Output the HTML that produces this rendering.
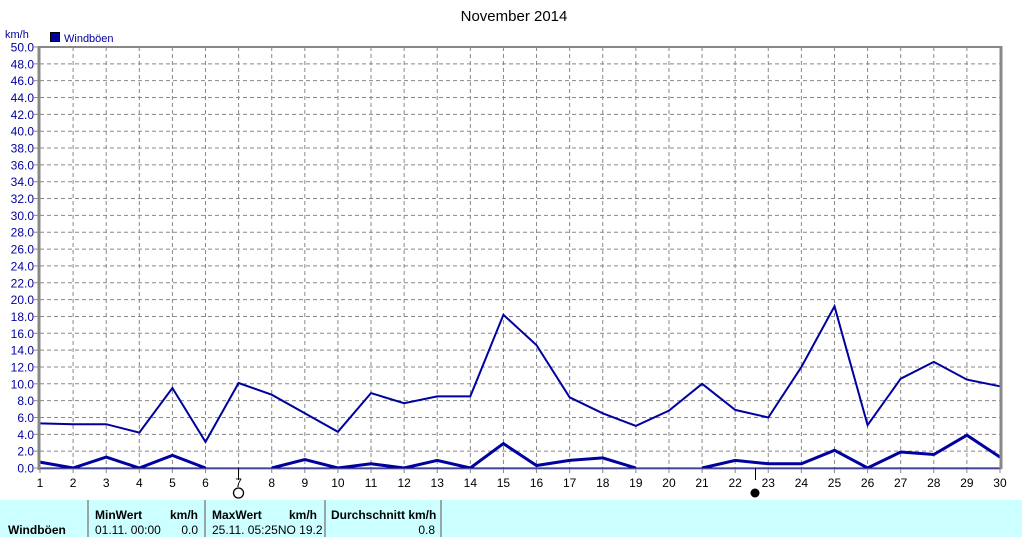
<!DOCTYPE html><html><head><meta charset="utf-8"><style>
body{margin:0;background:#fff;width:1024px;height:537px;overflow:hidden;font-family:"Liberation Sans",sans-serif}
</style></head><body>
<svg width="1024" height="537" xmlns="http://www.w3.org/2000/svg" style="position:absolute;left:0;top:0" font-family="Liberation Sans, sans-serif">
<text x="514" y="21" font-size="15" text-anchor="middle" fill="#000">November 2014</text>
<text x="5" y="38" font-size="11" fill="#0000a0">km/h</text>
<rect x="50.5" y="32.5" width="9" height="9" fill="#0000a0" stroke="#000"/>
<text x="64" y="42" font-size="11" fill="#0000a0">Windböen</text>
<g id="grid" stroke="#888" stroke-dasharray="4,3" stroke-width="1"></g>
<g id="ylab" font-size="12" fill="#0000a0" text-anchor="end"></g>
<g id="xlab" font-size="12" fill="#000" text-anchor="middle"></g>
<line x1="40" y1="468" x2="1000" y2="468" stroke="#0000a0" stroke-width="1"/>
<polyline fill="none" stroke="#0000a0" stroke-width="2" points="40,423.4 73.1,424.2 106.2,424.2 139.3,432.6 172.4,388 205.5,441.9 238.6,383 271.7,394.7 304.8,413.3 337.9,431.8 371,393.1 404.1,403.2 437.2,396.4 470.3,396.4 503.4,314.8 536.5,345.1 569.6,397.3 602.7,413.3 635.8,425.9 668.9,410.7 702.1,383.8 735.2,409.9 768.3,417.5 801.4,367 834.5,306.3 867.6,425.1 900.7,378.7 933.8,361.9 966.9,379.6 1000,386.3"/>
<g fill="none" stroke="#0000a0" stroke-width="3">
<polyline points="40,462.1 73.1,468 106.2,457.1 139.3,468 172.4,455.4 205.5,468"/>
<polyline points="271.7,468 304.8,459.6 337.9,468 371,463.8 404.1,468 437.2,460.4 470.3,468 503.4,443.6 536.5,465.5 569.6,460.4 602.7,457.9 635.8,468"/>
<polyline points="702.1,468 735.2,460.4 768.3,463.8 801.4,463.8 834.5,450.3 867.6,468 900.7,452 933.8,454.5 966.9,435.2 1000,457.1"/>
</g>
<line x1="40" y1="47" x2="1001" y2="47" stroke="#888" stroke-width="2"/>
<line x1="1001" y1="46" x2="1001" y2="469" stroke="#888" stroke-width="3"/>
<line x1="39" y1="46" x2="39" y2="470" stroke="#888" stroke-width="3"/>
<line x1="38" y1="469" x2="1001" y2="469" stroke="#888" stroke-width="1"/>
<line x1="238.5" y1="468" x2="238.5" y2="480" stroke="#000"/>
<line x1="755.5" y1="468" x2="755.5" y2="480" stroke="#000"/>
<circle cx="238.5" cy="493" r="5" fill="#fff" stroke="#000" stroke-width="1.3"/>
<circle cx="755" cy="493" r="4.5" fill="#000"/>
<rect x="0" y="500" width="1022" height="37" fill="#ccffff"/>
<g stroke="#888" stroke-width="1.5"><line x1="88" y1="500" x2="88" y2="537"/><line x1="205" y1="500" x2="205" y2="537"/><line x1="325" y1="500" x2="325" y2="537"/><line x1="441" y1="500" x2="441" y2="537"/></g>
<g font-size="12" fill="#000">
<text x="8" y="534" font-weight="bold">Windböen</text>
<text x="95" y="519" font-weight="bold">MinWert</text><text x="198" y="519" font-weight="bold" text-anchor="end">km/h</text>
<text x="95" y="534">01.11.  00:00</text><text x="198" y="534" text-anchor="end">0.0</text>
<text x="212" y="519" font-weight="bold">MaxWert</text><text x="317" y="519" font-weight="bold" text-anchor="end">km/h</text>
<text x="212" y="534">25.11.  05:25NO 19.2</text>
<text x="331" y="519" font-weight="bold">Durchschnitt km/h</text><text x="435" y="534" text-anchor="end">0.8</text>
</g>
</svg>
<script>
var ns="http://www.w3.org/2000/svg",g=document.getElementById("grid"),yl=document.getElementById("ylab"),xl=document.getElementById("xlab");
function el(p,t,a,txt){var e=document.createElementNS(ns,t);for(var k in a)e.setAttribute(k,a[k]);if(txt)e.textContent=txt;p.appendChild(e);}
for(var i=0;i<=25;i++){var y=468-i*16.84;if(i>0&&i<25)el(g,"line",{x1:40,x2:1000,y1:y,y2:y});el(yl,"text",{x:34,y:y+4.5},(i*2).toFixed(1));el(g,"line",{x1:34,x2:40,y1:y,y2:y,"stroke-dasharray":"none"});}
for(var d=1;d<=30;d++){var x=40+(d-1)*33.103;if(d>1&&d<30)el(g,"line",{x1:x,x2:x,y1:47,y2:468});el(xl,"text",{x:x,y:487},String(d));el(g,"line",{x1:x,x2:x,y1:468,y2:473,"stroke-dasharray":"none"});}
</script>
</body></html>
